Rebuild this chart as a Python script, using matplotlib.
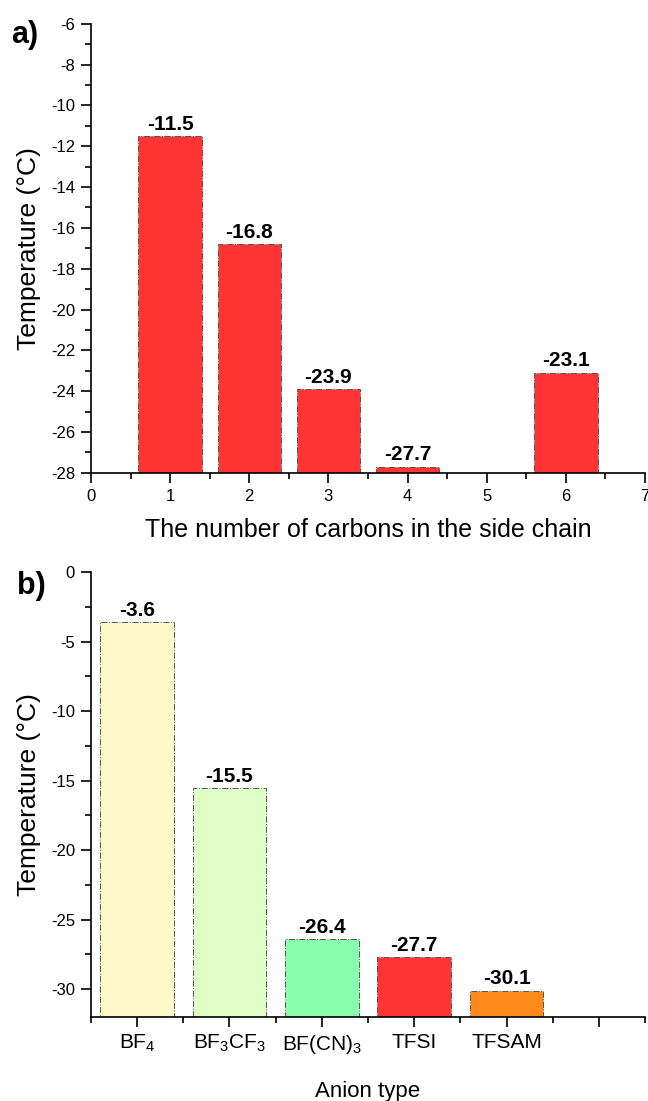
import matplotlib.pyplot as plt
from matplotlib.ticker import MultipleLocator

plt.rcParams['font.family'] = ['Liberation Sans', 'DejaVu Sans']
plt.rcParams['mathtext.default'] = 'regular'
plt.rcParams['axes.unicode_minus'] = False

# panel a data
carbons = [1, 2, 3, 4, 6]
temp_a = [-11.5, -16.8, -23.9, -27.7, -23.1]

# panel b data
anions = [r'BF$_4$', r'BF$_3$CF$_3$', r'BF(CN)$_3$', 'TFSI', 'TFSAM']
temp_b = [-3.6, -15.5, -26.4, -27.7, -30.1]
colors_b = ['#FFF8C8', '#DFFFC6', '#8AFFAE', '#FF3434', '#FF8A1C']

fig = plt.figure(figsize=(6.48, 11.01), dpi=100)
ax1 = fig.add_axes([0.1404, 0.5705, 0.855, 0.408])
ax2 = fig.add_axes([0.1404, 0.0763, 0.855, 0.404])

for ax in (ax1, ax2):
    ax.spines['top'].set_visible(False)
    ax.spines['right'].set_visible(False)
    ax.spines['left'].set_linewidth(1.2)
    ax.spines['bottom'].set_linewidth(1.2)
    ax.tick_params(which='major', direction='out', length=7, width=1.2, labelsize=12, pad=4.5)
    ax.tick_params(which='minor', direction='out', length=4, width=1.2)

# a)
base_a = -28
ax1.bar(carbons, [v - base_a for v in temp_a], bottom=base_a, width=0.8,
        color='#FF3434', edgecolor='#555555', linewidth=0.7, linestyle='-.')
for x, v in zip(carbons, temp_a):
    ax1.text(x, v + 0.12, f'{v}', ha='center', va='bottom', fontsize=15, fontweight='bold')
ax1.set_xlim(0, 7)
ax1.set_ylim(-28, -6)
ax1.xaxis.set_major_locator(MultipleLocator(1))
ax1.xaxis.set_minor_locator(MultipleLocator(0.5))
ax1.yaxis.set_major_locator(MultipleLocator(2))
ax1.yaxis.set_minor_locator(MultipleLocator(1))
ax1.set_xlabel('The number of carbons in the side chain', fontsize=18, labelpad=10)
ax1.set_ylabel('Temperature (°C)', fontsize=19, labelpad=7)
fig.text(0.017, 0.982, 'a)', fontsize=22, fontweight='bold', va='top')

# b)
base_b = -32
pos_b = list(range(1, len(anions) + 1))
ax2.bar(pos_b, [v - base_b for v in temp_b], bottom=base_b, width=0.8,
        color=colors_b, edgecolor='#555555', linewidth=0.7, linestyle='-.')
for x, v in zip(pos_b, temp_b):
    ax2.text(x, v + 0.15, f'{v}', ha='center', va='bottom', fontsize=15, fontweight='bold')
ax2.set_xlim(0.5, 6.5)
ax2.set_ylim(-32, 0)
ax2.set_xticks(range(1, 7))
ax2.set_xticklabels(anions + [''], fontsize=15)
ax2.set_xticks([x + 0.5 for x in range(0, 7)], minor=True)
ax2.yaxis.set_major_locator(MultipleLocator(5))
ax2.yaxis.set_minor_locator(MultipleLocator(2.5))
ax2.set_xlabel('Anion type', fontsize=16, labelpad=18)
ax2.set_ylabel('Temperature (°C)', fontsize=19, labelpad=7)
fig.text(0.027, 0.481, 'b)', fontsize=22, fontweight='bold', va='top')

fig.savefig('out.png', dpi=100)
